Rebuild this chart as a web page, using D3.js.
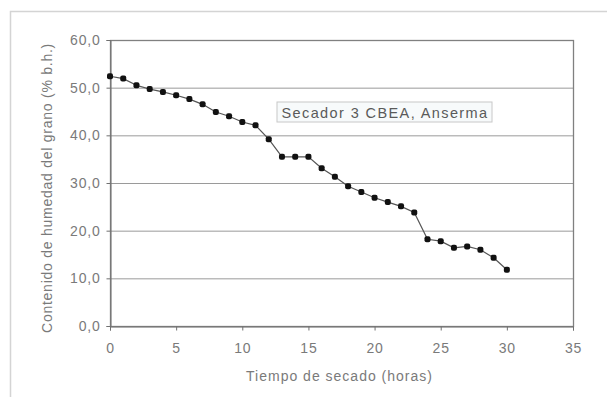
<!DOCTYPE html>
<html>
<head>
<meta charset="utf-8">
<script src="https://cdn.jsdelivr.net/npm/d3@7"></script>
<style>
  body { margin: 0; background: #fff; }
  text { font-family: "Liberation Sans", Arial, sans-serif; }
</style>
</head>
<body>
<svg width="607" height="397"></svg>
<script>
// drying time (hours) and grain moisture (% w.b.)
var horas = [0, 1, 2, 3, 4, 5, 6, 7, 8, 9, 10, 11, 12, 13, 14, 15, 16, 17, 18, 19, 20,
             21, 22, 23, 24, 25, 26, 27, 28, 29, 30];
var humedad = [52.4, 51.9, 50.5, 49.7, 49.1, 48.4, 47.6, 46.5, 44.9, 44.0, 42.8, 42.1, 39.2,
               35.5, 35.5, 35.5, 33.1, 31.3, 29.3, 28.1, 26.9, 26.0, 25.1, 23.8,
               18.2, 17.8, 16.4, 16.7, 16.0, 14.3, 11.8];
var xTicks = [0, 5, 10, 15, 20, 25, 30, 35];
var yTicks = [0, 10, 20, 30, 40, 50, 60];

var svg = d3.select("svg"),
    margin = {top: 40, left: 110, right: 34, bottom: 71},
    width = +svg.attr("width") - margin.left - margin.right,
    height = +svg.attr("height") - margin.top - margin.bottom;

// outer frame (left/top only visible in the scan)
svg.append("path")
  .attr("d", "M10.5,397 V11.5 H607")
  .attr("fill", "none")
  .attr("stroke", "#d4d4d4")
  .attr("stroke-width", 1.5);

var g = svg.append("g").attr("transform", "translate(" + margin.left + "," + margin.top + ")");

var x = d3.scaleLinear().domain([0, 35]).range([0, width]);
var y = d3.scaleLinear().domain([0, 60]).range([height, 0]);
var fmt = function (d) { return d3.format(".1f")(d).replace(".", ","); };

// gridlines
g.append("g").selectAll("line")
  .data(yTicks.slice(1, -1))
  .enter().append("line")
  .attr("x1", 0).attr("x2", width)
  .attr("y1", d => y(d) + 0.5).attr("y2", d => y(d) + 0.5)
  .attr("stroke", "#9a9a9a")
  .attr("stroke-width", 1);

// plot border
g.append("rect")
  .attr("x", 0.5).attr("y", 0.5)
  .attr("width", width).attr("height", height)
  .attr("fill", "none")
  .attr("stroke", "#808080")
  .attr("stroke-width", 1.3);

var xAxis = g.append("g")
  .attr("transform", "translate(0," + (height + 0.5) + ")")
  .call(d3.axisBottom(x).tickValues(xTicks).tickSize(4).tickPadding(13).tickFormat(d3.format("d")));
var yAxis = g.append("g")
  .attr("transform", "translate(0.5,0)")
  .call(d3.axisLeft(y).tickValues(yTicks).tickSize(4).tickPadding(6).tickFormat(fmt));

[xAxis, yAxis].forEach(function (a) {
  a.select(".domain").attr("stroke", "#707070");
  a.selectAll(".tick line").attr("stroke", "#707070");
  a.selectAll("text").attr("fill", "#7a7a7a").style("font-size", "14px").style("letter-spacing", "0.8px");
});

// series line
var line = d3.line().x((d, i) => x(horas[i])).y(d => y(d));
g.append("path")
  .datum(humedad)
  .attr("d", line)
  .attr("fill", "none")
  .attr("stroke", "#555")
  .attr("stroke-width", 1.2);

g.append("g").selectAll("rect")
  .data(humedad)
  .enter().append("rect")
  .attr("x", (d, i) => x(horas[i]) - 3)
  .attr("y", d => y(d) - 3)
  .attr("width", 6).attr("height", 6)
  .attr("rx", 2)
  .attr("fill", "#111");

// label box
var box = g.append("g").attr("transform", "translate(" + (277 - margin.left) + "," + (102 - margin.top) + ")");
box.append("rect")
  .attr("width", 215).attr("height", 20)
  .attr("fill", "#f7fafb")
  .attr("stroke", "#c8c8c8");
box.append("text")
  .attr("x", 108).attr("y", 15.5)
  .attr("text-anchor", "middle")
  .attr("fill", "#5a5a5a")
  .style("font-size", "14.5px")
  .style("letter-spacing", "1.4px")
  .text("Secador 3 CBEA, Anserma");

// axis titles
svg.append("text")
  .attr("x", margin.left + width / 2 - 2)
  .attr("y", 381)
  .attr("text-anchor", "middle")
  .attr("fill", "#7a7a7a")
  .style("font-size", "14px")
  .style("letter-spacing", "1px")
  .text("Tiempo de secado (horas)");

svg.append("text")
  .attr("transform", "translate(52,188) rotate(-90)")
  .attr("text-anchor", "middle")
  .attr("fill", "#7a7a7a")
  .style("font-size", "14px")
  .style("letter-spacing", "0.75px")
  .text("Contenido de humedad del grano (% b.h.)");
</script>
</body>
</html>
